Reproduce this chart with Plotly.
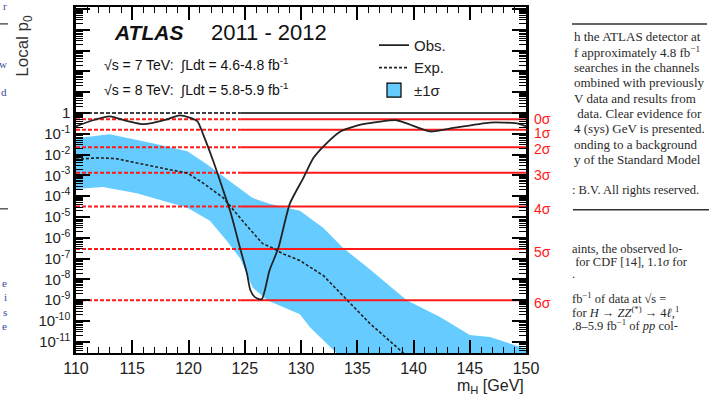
import math
import plotly.graph_objects as go

# ---------------- data ----------------
mass_obs = [110, 111.5, 113, 114.5, 116, 118, 119.2, 120.3, 120.8, 121.3, 122.2, 123.1,
            123.7, 124.6, 125.2, 125.5, 125.9, 126.5, 127.2, 128.0, 129.0, 130.2, 131.1,
            132.0, 133.5, 135.5, 138.5, 139.4, 141.5, 143.0, 146.8, 149.2, 150]
p0_obs = [0.23, 0.45, 0.69, 0.42, 0.29, 0.48, 0.78, 0.55, 0.40, 0.095, 4.9e-3, 1.8e-4,
          2.0e-5, 3.0e-7, 1.9e-8, 3.0e-9, 1.4e-9, 1.1e-9, 2.7e-8, 3.4e-7, 4.3e-5, 7.4e-4,
          6.8e-3, 0.025, 0.13, 0.29, 0.45, 0.32, 0.13, 0.17, 0.35, 0.32, 0.23]

mass_exp = [110, 112, 113.5, 115.4, 118.1, 119.9, 121.3, 123.1, 124.8, 126.6, 127.5,
            128.4, 129.9, 132.0, 134.1, 136.1, 138.8, 140]
p0_exp = [6.0e-3, 7.0e-3, 6.5e-3, 3.9e-3, 2.0e-3, 1.3e-3, 4.3e-4, 8.3e-5, 6.6e-6, 5.2e-7,
          3.2e-7, 1.7e-7, 8.1e-8, 1.5e-8, 9.8e-10, 7.8e-11, 4.0e-12, 1.0e-12]

mass_band_hi = [110, 113, 116.8, 119.9, 121.6, 123.7, 125.7, 127.2, 129.9, 132.0, 133.7,
                135.9, 139.4, 142.4, 145.0, 146.8, 149.5, 150]
p0_band_hi = [0.062, 0.095, 0.035, 0.0145, 3.5e-3, 5.4e-4, 8.3e-5, 4.3e-5, 2.0e-5, 3.0e-6,
              3.4e-7, 3.8e-8, 9.8e-10, 1.5e-10, 2.1e-11, 1.7e-11, 5.6e-12, 4.0e-12]

mass_band_lo = [110, 112.4, 115.4, 118.4, 119.9, 121.9, 123.4, 124.6, 125.7, 127.0, 128.4,
                129.9, 130.8, 132.6, 134.0, 140.0, 150.0]
p0_band_lo = [2.2e-4, 2.8e-4, 1.4e-4, 4.8e-5, 2.8e-5, 6.6e-6, 7.2e-7, 1.0e-7, 4.1e-9, 9.8e-10,
              4.6e-10, 2.1e-10, 5.0e-11, 5.6e-12, 1.0e-12, 1.0e-14, 1.0e-16]

sigma_labels = ["0σ", "1σ", "2σ", "3σ", "4σ", "5σ", "6σ"]
sigma_p0 = [0.5, 0.158655, 0.02275, 1.3499e-3, 3.167e-5, 2.867e-7, 9.866e-10]

mass_range = [110, 150]
mass_split = 124.6          # red/black reference lines are dashed left of this mass
x_ticks = [110, 115, 120, 125, 130, 135, 140, 145, 150]
y_decades = list(range(-11, 6))

# ---------------- styling helpers ----------------
L, R, T, B = 76, 183, 5, 45
W, H = 709, 398
PW, PH = W - L - R, H - T - B
def px(x):
    return (x - L) / PW
def py(y):
    return (H - B - y) / PH

SANS = "Liberation Sans, Arial, sans-serif"
SERIF = "Liberation Serif, Times New Roman, serif"
BAND = "#66ccff"
RED = "#ff1a1a"

fig = go.Figure()

# ±1 sigma band (closed polygon)
fig.add_trace(go.Scatter(
    x=mass_band_hi + mass_band_lo[::-1],
    y=p0_band_hi + p0_band_lo[::-1],
    fill="toself", fillcolor=BAND, line=dict(width=0),
    mode="lines", hoverinfo="skip", showlegend=False))

# reference lines: p0 = 1 (black) and sigma levels (red)
ref_levels = [(1.0, "black", 1.6)] + [(p, RED, 2.0) for p in sigma_p0]
for p, col, w in ref_levels:
    fig.add_trace(go.Scatter(x=[mass_range[0], mass_split], y=[p, p], mode="lines",
                             line=dict(color=col, width=w, dash="4px,2px"),
                             showlegend=False, hoverinfo="skip"))
    fig.add_trace(go.Scatter(x=[mass_split, mass_range[1]], y=[p, p], mode="lines",
                             line=dict(color=col, width=w),
                             showlegend=False, hoverinfo="skip"))

# expected & observed
fig.add_trace(go.Scatter(x=mass_exp, y=p0_exp, mode="lines", name="Exp.",
                         line=dict(color="#222222", width=1.6, dash="3px,2px"),
                         legendrank=2))
fig.add_trace(go.Scatter(x=mass_obs, y=p0_obs, mode="lines", name="Obs.",
                         line=dict(color="#222222", width=1.8, shape="spline", smoothing=0.6),
                         legendrank=1))
# legend entry for the band (square with black outline)
fig.add_trace(go.Scatter(x=[None], y=[None], mode="markers", name="±1σ",
                         marker=dict(symbol="square", size=14, color=BAND,
                                     line=dict(color="black", width=1.2)),
                         legendrank=3))

ann = []
# sigma labels
sigma_shift = [0, -3, -2, -2, -2, -3, -3]
for lab, p, s in zip(sigma_labels, sigma_p0, sigma_shift):
    ann.append(dict(text=lab, xref="paper", yref="y", x=px(532), y=math.log10(p),
                    xanchor="left", yanchor="middle", yshift=s, showarrow=False,
                    font=dict(family=SANS, size=14, color=RED)))

# in-plot labels
inplot = [
    dict(text="<b><i>ATLAS</i></b>", x=px(112), y=py(31), font=dict(family=SANS, size=21, color="#111")),
    dict(text="2011 - 2012", x=px(209), y=py(31), font=dict(family=SANS, size=22, color="#111")),
    dict(text="√s = 7 TeV:  ∫Ldt = 4.6-4.8 fb<sup>-1</sup>", x=px(102), y=py(62),
         font=dict(family=SANS, size=14, color="#111")),
    dict(text="√s = 8 TeV:  ∫Ldt = 5.8-5.9 fb<sup>-1</sup>", x=px(102), y=py(87),
         font=dict(family=SANS, size=14, color="#111")),
]
for a in inplot:
    a.update(xref="paper", yref="paper", xanchor="left", yanchor="middle", showarrow=False)
ann += inplot

# axis titles
ann.append(dict(text="Local p<sub>0</sub>", xref="paper", yref="paper", x=px(24), y=py(44),
                textangle=-90, showarrow=False, xanchor="center", yanchor="middle",
                font=dict(family=SANS, size=17, color="#333")))
ann.append(dict(text="m<sub>H</sub> [GeV]", xref="paper", yref="paper", x=px(526), y=py(387),
                showarrow=False, xanchor="right", yanchor="middle",
                font=dict(family=SANS, size=16, color="#222")))

# surrounding page text (cropped article)
page_top = ["h the ATLAS detector at", "f approximately 4.8 fb<sup>−1</sup>",
            "searches in the channels", "ombined with previously",
            "V data and results from", " data. Clear evidence for",
            "4 (sys) GeV is presented.", "onding to a background",
            "y of the Standard Model"]
for i, t in enumerate(page_top):
    ann.append(dict(text=t, xref="paper", yref="paper", x=px(572), y=py(35 + 15.4 * i),
                    xanchor="left", yanchor="middle", showarrow=False,
                    font=dict(family=SERIF, size=13, color="#2a2a2a")))
page_bottom = [(": B.V. All rights reserved.", 189),
               ("aints, the observed lo-", 248),
               (" for CDF [14], 1.1<i>σ</i> for", 261),
               (".", 274),
               ("fb<sup>−1</sup> of data at √s =", 298),
               ("for <i>H</i> → <i>ZZ</i><sup>(*)</sup> → 4<i>ℓ</i>,<sup>1</sup>", 312),
               (".8–5.9 fb<sup>−1</sup> of <i>pp</i> col-", 325)]
for t, y in page_bottom:
    ann.append(dict(text=t, xref="paper", yref="paper", x=px(570), y=py(y),
                    xanchor="left", yanchor="middle", showarrow=False,
                    font=dict(family=SERIF, size=12.5, color="#2a2a2a")))
left_frag = [("r", 4), ("w", 62), ("d", 90), ("e", 283), ("i", 297), ("s", 312), ("e", 326)]
for t, y in left_frag:
    ann.append(dict(text=t, xref="paper", yref="paper", x=px(9), y=py(y),
                    xanchor="right", yanchor="middle", showarrow=False,
                    font=dict(family=SERIF, size=11, color="#3a4a9a")))

shapes = [
    dict(type="line", xref="paper", yref="paper", x0=px(572), x1=px(707), y0=py(22), y1=py(22),
         line=dict(color="#333", width=1.5)),
    dict(type="line", xref="paper", yref="paper", x0=px(573), x1=px(709), y0=py(209), y1=py(209),
         line=dict(color="#333", width=1.5)),
    dict(type="line", xref="paper", yref="paper", x0=px(0), x1=px(8), y0=py(22), y1=py(22),
         line=dict(color="#333", width=1.2)),
    dict(type="line", xref="paper", yref="paper", x0=px(0), x1=px(8), y0=py(208), y1=py(208),
         line=dict(color="#333", width=1.2)),
]

y_tickvals = [10.0 ** d for d in y_decades]
y_ticktext = [("1" if d == 0 else "10<sup>%d</sup>" % d) if d <= 0 else "" for d in y_decades]
y_minor = [k * 10.0 ** d for d in range(-12, 6) for k in range(2, 10)]

fig.update_layout(
    width=W, height=H, margin=dict(l=L, r=R, t=T, b=B),
    paper_bgcolor="white", plot_bgcolor="white",
    annotations=ann, shapes=shapes,
    legend=dict(x=px(374), y=py(27), xanchor="left", yanchor="top",
                bgcolor="rgba(0,0,0,0)", font=dict(family=SANS, size=15, color="#222"),
                tracegroupgap=0, itemwidth=30),
    xaxis=dict(range=mass_range, tickvals=x_ticks, ticks="inside", ticklen=13, tickwidth=1.5,
               tickcolor="black", showline=True, linecolor="black", linewidth=2,
               mirror="allticks", showgrid=False, zeroline=False,
               tickfont=dict(family=SANS, size=16, color="#222"),
               minor=dict(dtick=1, tick0=110, ticks="inside", ticklen=6, tickwidth=1.3,
                          tickcolor="black", showgrid=False)),
    yaxis=dict(type="log", range=[-11.54, 5.1], tickmode="array", tickvals=y_tickvals,
               ticktext=y_ticktext, ticks="inside", ticklen=14, tickwidth=1.5,
               tickcolor="black", showline=True, linecolor="black", linewidth=2.5,
               mirror="allticks", showgrid=False, zeroline=False,
               tickfont=dict(family=SANS, size=15, color="#222"),
               minor=dict(tickmode="array", tickvals=y_minor, ticks="inside", ticklen=7,
                          tickwidth=1.3, tickcolor="black", showgrid=False)),
)

fig.write_html("out.html")
